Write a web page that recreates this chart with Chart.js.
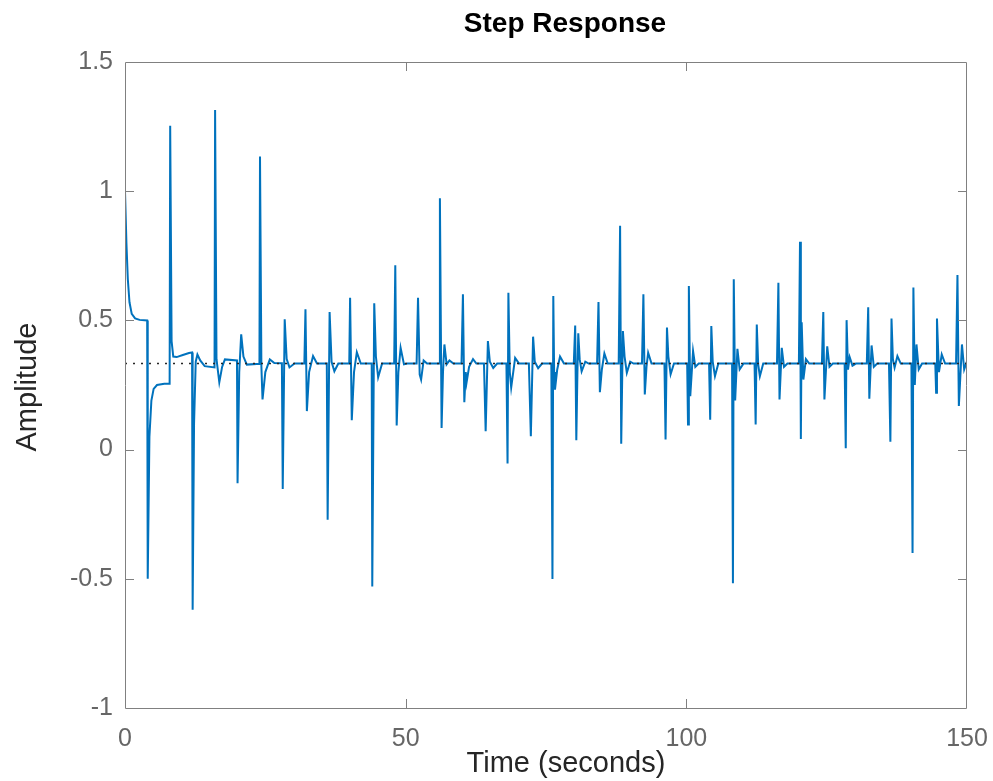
<!DOCTYPE html>
<html>
<head>
<meta charset="utf-8">
<script src="https://cdn.jsdelivr.net/npm/chart.js@4.4.1/dist/chart.umd.min.js"></script>
<style>
html,body{margin:0;padding:0;background:#ffffff;}
#wrap{width:993px;height:781px;position:relative;}
canvas{display:block;}
</style>
</head>
<body>
<div id="wrap"><canvas id="c" width="993" height="781" style="width:993px;height:781px"></canvas></div>
<script>
const titleText = 'Step Response';
const xLabel = 'Time (seconds)';
const yLabel = 'Amplitude';
const xTicks = [0, 50, 100, 150];
const yTicks = [-1, -0.5, 0, 0.5, 1, 1.5];
const steadyState = 0.3333;

const timeSec = [
  0, 0.25, 0.5, 0.8, 1.2, 1.8, 2.6, 3.95, 4.05, 4.35, 4.7, 5.1, 5.7, 7.0, 7.95,
  8.05, 8.3, 8.6, 9.2, 10.3, 11.4, 11.95,
  12.05, 12.3, 12.6, 12.9, 13.4, 14.2, 15.95,
  16.05, 16.3, 16.8, 17.3, 17.8, 19.95,
  20.05, 20.35, 20.7, 21.1, 21.7, 23.95,
  24.05, 24.3, 24.5, 25.0, 25.8, 26.6, 27.95,
  28.1, 28.45, 28.8, 29.3, 30.2, 31.95,
  32.15, 32.4, 32.8, 33.5, 34.2, 35.95,
  36.1, 36.45, 36.8, 37.3, 38.0, 39.95,
  40.1, 40.4, 40.8, 41.3, 42.0, 43.95,
  44.05, 44.4, 44.7, 45.1, 45.8, 47.95,
  48.15, 48.4, 48.7, 49.1, 49.7, 50.3, 51.95,
  52.2, 52.5, 52.75, 53.2, 53.8, 55.95,
  56.1, 56.4, 56.65, 56.9, 57.3, 57.8, 58.5, 59.95,
  60.2, 60.45, 60.7, 60.85, 61.3, 62.0, 62.6, 63.95,
  64.25, 64.65, 65.0, 65.6, 66.3, 67.95,
  68.15, 68.3, 68.55, 68.8, 69.5, 70.2, 71.95,
  72.3, 72.7, 73.0, 73.6, 74.3, 75.95,
  76.15, 76.3, 76.45, 76.6, 77.0, 77.5, 78.2, 79.95,
  80.2, 80.4, 80.6, 80.75, 81.0, 81.35, 82.0, 82.6, 84.1,
  84.35, 84.6, 84.95, 85.4, 86.0, 87.95,
  88.2, 88.4, 88.7, 89.0, 89.4, 90.0, 90.6, 92.1,
  92.35, 92.6, 92.9, 93.2, 93.8, 96.1,
  96.3, 96.55, 96.8, 97.2, 97.8, 100.15,
  100.3, 100.45, 100.7, 101.2, 101.6, 102.2, 104.05,
  104.25, 104.45, 104.7, 105.1, 105.7, 108.15,
  108.3, 108.45, 108.7, 109.1, 109.5, 110.2, 112.15,
  112.35, 112.55, 112.8, 113.1, 113.7, 116.15,
  116.4, 116.6, 117.0, 117.4, 118.0, 120.05,
  120.25, 120.4, 120.55, 120.85, 121.3, 121.9, 124.15,
  124.4, 124.6, 125.1, 125.5, 126.1, 128.2,
  128.4, 128.55, 128.8, 129.1, 129.6, 130.2, 132.15,
  132.4, 132.6, 133.0, 133.4, 134.0, 136.1,
  136.35, 136.55, 136.8, 137.1, 137.6, 138.2, 140.1,
  140.3, 140.45, 140.7, 141.0, 141.4, 142.0, 144.35,
  144.5, 144.65, 145.0, 145.5, 146.1, 148.05,
  148.3, 148.55, 149.1, 149.5, 150.0
];

const amplitude = [
  1.00, 0.80, 0.66, 0.57, 0.525, 0.508, 0.502, 0.500, -0.500, 0.05, 0.19, 0.235, 0.250, 0.255, 0.255,
  1.253, 0.42, 0.36, 0.358, 0.366, 0.374, 0.376,
  -0.620, 0.10, 0.34, 0.368, 0.345, 0.323, 0.318,
  1.314, 0.35, 0.260, 0.320, 0.349, 0.345,
  -0.130, 0.30, 0.446, 0.36, 0.329, 0.332,
  1.134, 0.32, 0.194, 0.30, 0.349, 0.335, 0.334,
  -0.152, 0.504, 0.35, 0.318, 0.333, 0.333,
  0.543, 0.149, 0.30, 0.362, 0.333, 0.333,
  -0.271, 0.532, 0.34, 0.303, 0.333, 0.333,
  0.588, 0.114, 0.30, 0.377, 0.333, 0.333,
  -0.530, 0.566, 0.36, 0.280, 0.333, 0.333,
  0.713, 0.093, 0.30, 0.394, 0.330, 0.333, 0.333,
  0.588, 0.290, 0.271, 0.345, 0.333, 0.333,
  0.973, 0.084, 0.30, 0.407, 0.330, 0.345, 0.333, 0.333,
  0.601, 0.183, 0.30, 0.260, 0.320, 0.350, 0.333, 0.333,
  0.071, 0.420, 0.340, 0.316, 0.333, 0.333,
  -0.054, 0.607, 0.30, 0.240, 0.355, 0.333, 0.333,
  0.052, 0.437, 0.340, 0.315, 0.333, 0.333,
  -0.501, 0.594, 0.30, 0.232, 0.310, 0.360, 0.333, 0.333,
  0.480, 0.036, 0.300, 0.450, 0.350, 0.303, 0.340, 0.333, 0.333,
  0.571, 0.222, 0.310, 0.372, 0.333, 0.333,
  0.866, 0.023, 0.459, 0.360, 0.297, 0.340, 0.333, 0.333,
  0.601, 0.213, 0.320, 0.375, 0.333, 0.333,
  0.039, 0.472, 0.360, 0.291, 0.333, 0.333,
  0.097, 0.633, 0.207, 0.381, 0.320, 0.333, 0.333,
  0.116, 0.478, 0.340, 0.284, 0.333, 0.333,
  -0.517, 0.659, 0.190, 0.390, 0.310, 0.333, 0.333,
  0.097, 0.484, 0.330, 0.284, 0.333, 0.333,
  0.646, 0.194, 0.394, 0.320, 0.333, 0.333,
  0.804, 0.041, 0.493, 0.271, 0.350, 0.333, 0.333,
  0.532, 0.194, 0.400, 0.320, 0.333, 0.333,
  0.005, 0.501, 0.310, 0.358, 0.325, 0.333, 0.333,
  0.551, 0.197, 0.403, 0.320, 0.333, 0.333,
  0.030, 0.507, 0.350, 0.317, 0.362, 0.333, 0.333,
  -0.400, 0.627, 0.250, 0.407, 0.310, 0.333, 0.333,
  0.220, 0.507, 0.300, 0.368, 0.333, 0.333,
  0.676, 0.169, 0.407, 0.310, 0.342
];

const FONT = '"Liberation Sans", Arial, Helvetica, sans-serif';

const responsePoints = timeSec.map((t, i) => ({ x: t, y: amplitude[i] }));
const steadyPoints = [{ x: xTicks[0], y: steadyState }, { x: xTicks[xTicks.length - 1], y: steadyState }];

const framePlugin = {
  id: 'matlabFrame',
  afterDatasetsDraw(chart) {
    const { ctx, chartArea: a, scales } = chart;
    ctx.save();
    ctx.strokeStyle = '#808080';
    ctx.lineWidth = 1;
    ctx.beginPath();
    ctx.rect(a.left + 0.5, a.top + 0.5, a.right - a.left - 1, a.bottom - a.top);
    ctx.stroke();
    const tl = 9;
    ctx.beginPath();
    xTicks.slice(1, -1).forEach(v => {
      const px = Math.round(scales.x.getPixelForValue(v)) + 0.5;
      ctx.moveTo(px, a.bottom); ctx.lineTo(px, a.bottom - tl);
      ctx.moveTo(px, a.top); ctx.lineTo(px, a.top + tl);
    });
    yTicks.slice(1, -1).forEach(v => {
      const py = Math.round(scales.y.getPixelForValue(v)) + 0.5;
      ctx.moveTo(a.left, py); ctx.lineTo(a.left + tl, py);
      ctx.moveTo(a.right, py); ctx.lineTo(a.right - tl, py);
    });
    ctx.stroke();
    ctx.restore();
  },
  afterDraw(chart) {
    const { ctx } = chart;
    ctx.save();
    ctx.fillStyle = '#000000';
    ctx.textAlign = 'center';
    ctx.textBaseline = 'alphabetic';
    ctx.font = 'bold 28px ' + FONT;
    ctx.fillText(titleText, 565, 32);
    ctx.fillStyle = '#262626';
    ctx.font = '29px ' + FONT;
    ctx.fillText(xLabel, 566, 772);
    ctx.translate(36, 387);
    ctx.rotate(-Math.PI / 2);
    ctx.fillText(yLabel, 0, 0);
    ctx.restore();
  }
};

new Chart(document.getElementById('c'), {
  type: 'scatter',
  data: {
    datasets: [
      {
        label: 'Steady state',
        data: steadyPoints,
        showLine: true,
        borderColor: '#262626',
        borderWidth: 1.5,
        borderDash: [2, 6],
        pointRadius: 0,
        fill: false
      },
      {
        label: 'Step response',
        data: responsePoints,
        showLine: true,
        borderColor: '#0072BD',
        borderWidth: 2,
        pointRadius: 0,
        tension: 0,
        fill: false
      }
    ]
  },
  options: {
    responsive: false,
    animation: false,
    devicePixelRatio: 1,
    layout: { autoPadding: false, padding: { top: 62, right: 26, bottom: 0, left: 0 } },
    plugins: { legend: { display: false }, tooltip: { enabled: false }, title: { display: false } },
    scales: {
      x: {
        type: 'linear',
        min: xTicks[0],
        max: xTicks[xTicks.length - 1],
        afterBuildTicks: s => { s.ticks = xTicks.map(v => ({ value: v })); },
        afterFit: s => { s.height = 73; s.paddingLeft = 0; s.paddingRight = 0; },
        grid: { display: false, drawTicks: false },
        border: { display: false },
        ticks: {
          color: '#666666',
          font: { family: FONT, size: 25 },
          padding: 16,
          maxRotation: 0,
          autoSkip: false,
          callback: v => String(v)
        }
      },
      y: {
        type: 'linear',
        min: yTicks[0],
        max: yTicks[yTicks.length - 1],
        afterBuildTicks: s => { s.ticks = yTicks.map(v => ({ value: v })); },
        afterFit: s => { s.width = 125; s.paddingTop = 0; s.paddingBottom = 0; },
        grid: { display: false, drawTicks: false },
        border: { display: false },
        ticks: {
          color: '#666666',
          font: { family: FONT, size: 25 },
          padding: 12,
          autoSkip: false,
          callback: v => String(v)
        }
      }
    }
  },
  plugins: [framePlugin]
});
</script>
</body>
</html>
